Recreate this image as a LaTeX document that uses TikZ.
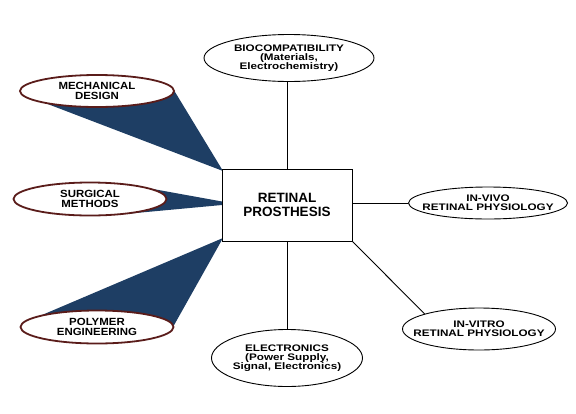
\documentclass[tikz,border=0pt]{standalone}
\usepackage{fontspec}
\setmainfont{Liberation Sans}
\newfontfamily\leftfont[FakeStretch=1.1]{Liberation Sans}
\newfontfamily\rightfont[FakeStretch=1.23]{Liberation Sans}
\usetikzlibrary{shapes.geometric}
\definecolor{fanblue}{RGB}{30,62,100}
\definecolor{maroon}{RGB}{90,28,26}
\tikzset{
  lefte/.style={ellipse, draw=maroon, line width=1.8pt, fill=white, inner sep=0pt},
  righte/.style={ellipse, draw=black, line width=0.9pt, fill=white, inner sep=0pt},
  lefttxt/.style={align=center, inner sep=0pt, font=\leftfont\bfseries\fontsize{10.4}{10.5}\selectfont},
  righttxt/.style={align=center, inner sep=0pt, font=\rightfont\bfseries\fontsize{9.5}{9}\selectfont},
  centerbox/.style={rectangle, draw, line width=1pt, fill=white, minimum width=130pt, minimum height=72pt, align=center, inner sep=0pt, font=\bfseries\fontsize{13.5}{14}\selectfont},
  conn/.style={draw, line width=0.9pt},
  fan/.style={fill=fanblue, draw=none}
}
\begin{document}
\begin{tikzpicture}[x=1pt,y=-1pt]
\useasboundingbox (0,0) rectangle (576,413);
% fans behind
\fill[fan] (45,103) -- (223,171) -- (172,87) -- cycle;
\fill[fan] (142,187) -- (222,201.5) -- (222,205) -- (125,214) -- cycle;
\fill[fan] (42,315) -- (223,238) -- (173,327) -- cycle;
% center
\node[centerbox] (box) at (287,205) {RETINAL\\PROSTHESIS};
% left ellipses
\node[lefte, minimum width=154pt, minimum height=32pt] (mech) at (97,91) {};
\node[lefttxt] (mecht) at (mech) {MECHANICAL\\DESIGN};
\node[lefte, minimum width=153pt, minimum height=33pt] (surg) at (90,199) {};
\node[lefttxt] (surgt) at (surg) {SURGICAL\\METHODS};
\node[lefte, minimum width=153pt, minimum height=33pt] (poly) at (97,327) {};
\node[lefttxt] (polyt) at (poly) {POLYMER\\ENGINEERING};
% right ellipses
\node[righte, minimum width=170pt, minimum height=47pt] (bio) at (289,58) {};
\node[righttxt] (biot) at (bio) {BIOCOMPATIBILITY\\(Materials,\\Electrochemistry)};
\node[righte, minimum width=159pt, minimum height=32pt] (vivo) at (488,203) {};
\node[righttxt] (vivot) at (vivo) {IN-VIVO\\RETINAL PHYSIOLOGY};
\node[righte, minimum width=153pt, minimum height=42pt] (vitro) at (479,329) {};
\node[righttxt] (vitrot) at (vitro) {IN-VITRO\\RETINAL PHYSIOLOGY};
\node[righte, minimum width=151pt, minimum height=57pt] (elec) at (287,358) {};
\node[righttxt] (elect) at (elec) {ELECTRONICS\\(Power Supply,\\Signal, Electronics)};
% connectors
\draw[conn] (box.north) -- (box.north |- bio.south);
\draw[conn] (vivo.west -| box.east) -- (vivo.west);
\draw[conn] (box.south east) -- (vitro.north west);
\draw[conn] (box.south) -- (elec.north);
\end{tikzpicture}
\end{document}
